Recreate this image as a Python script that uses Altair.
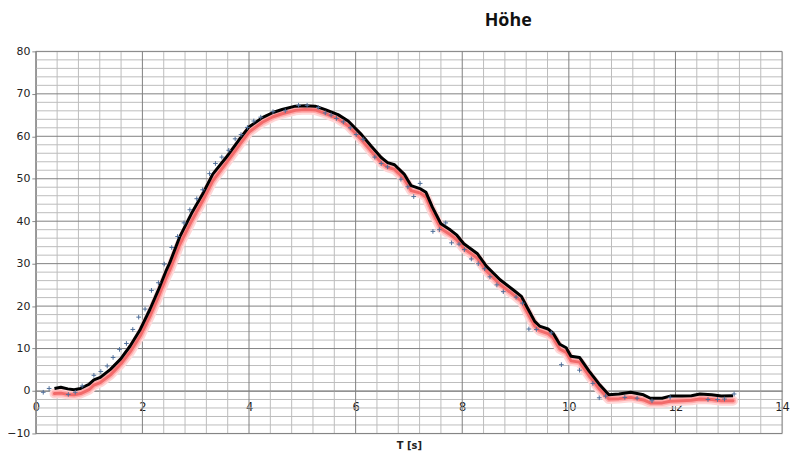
import altair as alt
import pandas as pd

# Black (smoothed) line
line_t = [0.35, 0.47, 0.60, 0.72, 0.84, 1.00, 1.09, 1.21, 1.40, 1.59, 1.77, 1.96, 2.14, 2.30, 2.45,
          2.51, 2.70, 2.92, 3.13, 3.32, 3.57, 3.82, 4.00, 4.25, 4.45, 4.62, 4.87, 5.05, 5.24, 5.43,
          5.67, 5.86, 6.11, 6.29, 6.48, 6.60, 6.73, 6.91, 7.04, 7.22, 7.32, 7.44, 7.60, 7.78, 7.90,
          8.03, 8.28, 8.46, 8.71, 8.96, 9.11, 9.21, 9.36, 9.45, 9.61, 9.70, 9.83, 9.95, 10.04, 10.20,
          10.38, 10.57, 10.75, 10.94, 11.16, 11.40, 11.53, 11.75, 11.90, 12.12, 12.30, 12.46, 12.68,
          12.86, 13.08]
black_h = [0.6, 0.9, 0.5, 0.3, 0.6, 1.6, 2.6, 3.2, 5.1, 7.5, 10.6, 14.5, 19.2, 23.8, 28.5,
           30.1, 36.3, 41.8, 46.4, 51.1, 55.0, 59.3, 62.2, 64.4, 65.6, 66.3, 67.1, 67.2, 67.1, 66.3,
           65.1, 63.6, 60.4, 57.7, 55.0, 53.8, 53.3, 51.1, 48.4, 47.6, 46.8, 43.3, 39.4, 37.9, 36.7,
           34.7, 32.4, 29.3, 26.2, 23.8, 22.3, 19.9, 16.4, 15.3, 14.6, 13.7, 11.0, 10.2, 8.2, 7.9,
           4.7, 1.6, -0.9, -0.7, -0.3, -0.9, -1.7, -1.7, -1.2, -1.2, -1.1, -0.7, -0.9,
           -1.2, -1.1]
# Red (glow) line
red_h = [-0.6, -0.5, -0.8, -0.9, -0.6, 0.3, 1.4, 2.0, 3.8, 6.3, 9.2, 13.0, 17.6, 22.2, 26.8,
         28.4, 34.5, 40.0, 44.8, 49.5, 53.7, 58.0, 61.0, 63.3, 64.6, 65.3, 66.1, 66.3, 66.2, 65.4,
         64.1, 62.5, 59.2, 56.5, 53.8, 52.7, 52.2, 50.0, 47.2, 46.6, 45.7, 42.2, 38.3, 36.8, 35.6,
         33.6, 31.3, 28.2, 25.1, 22.7, 21.2, 18.8, 15.3, 14.2, 13.5, 12.6, 9.9, 9.1, 7.1, 6.8,
         3.6, 0.5, -1.9, -1.8, -1.5, -2.1, -2.8, -2.8, -2.4, -2.3, -2.2, -1.9, -2.0,
         -2.3, -2.3]
# Raw measurement points (+)
pts_t = [0.14, 0.25, 0.61, 0.74, 0.87, 1.09, 1.22, 1.34, 1.45, 1.57, 1.70, 1.82, 1.93, 2.05, 2.17,
         2.30, 2.41, 2.55, 2.66, 2.78, 2.89, 3.02, 3.13, 3.26, 3.37, 3.49, 3.62, 3.74, 3.85, 3.97,
         4.09, 4.22, 4.45, 4.68, 4.93, 5.09, 5.30, 5.43, 5.54, 5.64, 5.77, 5.90, 6.01, 6.14, 6.36,
         6.48, 6.60, 6.85, 6.98, 7.09, 7.21, 7.45, 7.57, 7.69, 7.80, 7.94, 8.04, 8.17, 8.30, 8.42,
         8.52, 8.65, 8.77, 9.01, 9.13, 9.25, 9.39, 9.67, 9.86, 10.20, 10.45, 10.57, 10.69, 11.05,
         11.28, 11.56, 11.90, 12.61, 12.79, 12.92, 13.10]
pts_h = [-0.3, 0.6, -0.8, -0.3, 1.2, 3.7, 4.6, 5.9, 7.9, 9.8, 11.2, 14.5, 17.4, 19.3, 23.7,
         25.5, 29.9, 33.8, 36.4, 39.6, 42.7, 45.3, 47.4, 51.2, 53.6, 55.1, 56.7, 59.4, 60.4, 62.1,
         63.6, 64.5, 65.8, 66.0, 67.3, 67.3, 66.8, 65.5, 65.0, 64.2, 63.4, 62.0, 60.4, 59.3, 55.1,
         53.6, 52.8, 49.9, 48.1, 45.8, 48.9, 37.6, 38.0, 39.6, 34.9, 34.6, 33.3, 31.1, 30.0, 28.8,
         26.9, 25.0, 23.4, 22.1, 20.7, 14.6, 14.5, 13.7, 6.2, 4.9, 1.8, -1.6, -1.2, -1.5,
         -1.7, -2.3, -1.5, -2.0, -2.0, -1.9, -0.7]

x_ticks = [0, 2, 4, 6, 8, 10, 12, 14]
y_ticks = [-10, 0, 10, 20, 30, 40, 50, 60, 70, 80]

W, H = 752, 385
xs = alt.Scale(domain=[0, 14], nice=False, zero=False)
ys = alt.Scale(domain=[-10, 80], nice=False, zero=False)

x_minor = [round(i * 0.4, 2) for i in range(1, 35) if i % 5 != 0]
y_minor = [v for v in range(-8, 80, 2) if v % 10 != 0]

xaxis = alt.Axis(values=x_ticks, title="T [s]", grid=False, ticks=False, offset=-43,
                 domainColor="#8a8a8a", labelFont="DejaVu Sans", labelFontSize=11.5,
                 labelColor="#222222", labelPadding=11, labelFlush=False,
                 titleFont="DejaVu Sans", titleFontSize=10, titleFontWeight="bold",
                 titleColor="#222222", titleY=55, titleBaseline="middle")
yaxis = alt.Axis(values=y_ticks, title=None, grid=False, tickSize=4, tickColor="#8a8a8a",
                 domainColor="#8a8a8a", labelFont="DejaVu Sans", labelFontSize=11,
                 labelColor="#222222", labelPadding=2)

line_df = pd.DataFrame({"t": line_t, "black": black_h, "red": red_h})
pts_df = pd.DataFrame({"t": pts_t, "h": pts_h})

def X(f):
    return alt.X(f, scale=xs, axis=xaxis)

def Y(f):
    return alt.Y(f, scale=ys, axis=yaxis)

vminor = alt.Chart(pd.DataFrame({"v": x_minor})).mark_rule(color="#bcbcbc", strokeWidth=1).encode(x=X("v:Q"))
hminor = alt.Chart(pd.DataFrame({"v": y_minor})).mark_rule(color="#bcbcbc", strokeWidth=1).encode(y=Y("v:Q"))
vmajor = alt.Chart(pd.DataFrame({"v": x_ticks})).mark_rule(color="#808080", strokeWidth=1).encode(x=X("v:Q"))
hmajor = alt.Chart(pd.DataFrame({"v": y_ticks})).mark_rule(color="#808080", strokeWidth=1).encode(y=Y("v:Q"))

base = alt.Chart(line_df)
glow1 = base.mark_line(color="#ffd6d6", strokeWidth=10, strokeCap="round", strokeJoin="round").encode(
    x=X("t:Q"), y=Y("red:Q"))
glow2 = base.mark_line(color="#ffaaaa", strokeWidth=6, strokeCap="round", strokeJoin="round").encode(
    x=X("t:Q"), y=Y("red:Q"))
glow3 = base.mark_line(color="#f26a6a", strokeWidth=3, strokeCap="round", strokeJoin="round").encode(
    x=X("t:Q"), y=Y("red:Q"))
black = base.mark_line(color="#000000", strokeWidth=3, strokeJoin="round").encode(
    x=X("t:Q"), y=Y("black:Q"))
pts = alt.Chart(pts_df).mark_point(shape="M-1,0L1,0M0,-1L0,1", size=22, filled=False,
                                   color="#4f6f9a", strokeWidth=1, opacity=1).encode(
    x=X("t:Q"), y=Y("h:Q"))

chart = alt.layer(vminor, hminor, vmajor, hmajor, glow1, glow2, glow3, black, pts).properties(
    width=W, height=H,
    title=alt.TitleParams("Höhe", font="Open Sans", fontSize=18, fontWeight="bold", color="#111111",
                          anchor="middle", dx=100, offset=16),
    autosize=alt.AutoSizeParams(type="none"),
    padding={"left": 28, "top": 42, "right": 10, "bottom": 20},
).configure_view(stroke=None).configure(background="white")

chart.save("out.html", embed_options={"renderer": "svg", "actions": False})
